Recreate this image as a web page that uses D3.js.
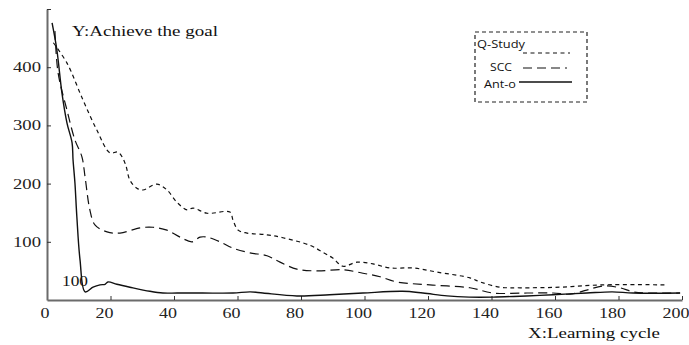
<!DOCTYPE html>
<html><head><meta charset="utf-8">
<script src="https://cdn.jsdelivr.net/npm/d3@7"></script>
<style>html,body{margin:0;padding:0;background:#fff;}svg{display:block;}</style>
</head><body>
<svg id="chart" width="689" height="345"></svg>
<script>
// ---- data ----
const seriesNames = ["Q-Study", "SCC", "Ant-o"];
const qStudyX = [2, 6.3, 11.3, 15.7, 19.8, 22.4, 24.6, 26.1, 28.3, 30.2, 34.6, 37.8, 40.9, 44.1, 46, 50.4, 57.6, 58.6, 60.2, 63, 69.3, 74.3, 82.8, 86.9, 90, 93.2, 97.6, 102.7, 108, 115.3, 122.8, 133.2, 136.4, 142.7, 149, 161.6, 175, 195];
const qStudyY = [442, 407, 344, 292, 253, 254, 235, 206, 192, 189, 199, 189, 168, 155, 158, 149, 151, 137, 120, 115, 112, 107, 94, 82, 72, 58, 65, 62, 55, 55, 48, 38, 31, 22, 21, 22, 26, 26];
const sccX = [2.5, 3.5, 6.3, 8.8, 11, 12, 13.5, 15.1, 18.9, 23, 29.3, 33.4, 37.8, 41.9, 45.7, 48.2, 50.4, 54.5, 58.6, 63.9, 69.3, 73.4, 78.7, 85, 93.2, 99.5, 104.9, 110.2, 120.6, 133.2, 140.5, 151.2, 159.4, 164.7, 170, 175.1, 180.5, 184.6, 189, 199.4];
const sccY = [462, 390, 326, 275, 246, 211, 155, 129, 117, 115, 124, 125, 120, 108, 100, 108, 108, 100, 89, 81, 76, 65, 53, 50, 52, 46, 40, 31, 26, 21, 12, 12, 12, 10, 17, 24, 21, 14, 12, 12];
const antX = [1.6, 3.1, 4.7, 6.3, 7.9, 8.2, 8.8, 9.4, 10.4, 12, 14.5, 16.7, 18.3, 19.2, 22, 26.1, 32.4, 36.5, 41, 49, 58.6, 64, 68, 78.7, 89, 99.5, 112, 118.4, 126, 133, 140.5, 151, 159.4, 170, 178, 184.6, 199.4];
const antY = [476, 430, 356, 304, 270, 241, 201, 143, 69, 14, 22, 26, 27, 31, 27, 22, 15, 12, 12, 12, 12, 14, 12, 7, 9, 12, 15, 12, 7, 5, 5, 7, 9, 12, 14, 12, 12];
const xTicks = [20, 40, 60, 80, 100, 120, 140, 160, 180, 200];
const xLabels = [0, 20, 40, 60, 80, 100, 120, 140, 160, 180, 200];
const yTicks = [100, 200, 300, 400, 500];
const yLabels = [100, 200, 300, 400];
const yTitle = "Y:Achieve the goal";
const xTitle = "X:Learning cycle";
const note = "100";

// ---- drawing ----
const SERIF = '"Liberation Serif", "Times New Roman", serif';
const SANS = '"Open Sans", sans-serif';
const svg = d3.select("#chart");
const x = d3.scaleLinear().domain([0, 200]).range([47, 682]);
const y = d3.scaleLinear().domain([0, 500]).range([300, 9]);
const axisColor = "#6b6b6b";

// text placed with a horizontal stretch so it spans the measured width
function fitText(parent, txt, px, py, w, anchor, font, size, color) {
  const t = parent.append("text")
    .style("font-family", font).style("font-size", size + "px")
    .attr("fill", color || "#111").text(txt);
  const nat = t.node().getComputedTextLength() || w;
  const sx = w / nat;
  const x0 = anchor === "middle" ? px - w / 2 : anchor === "end" ? px - w : px;
  t.attr("transform", `translate(${x0},${py}) scale(${sx},1)`);
  return t;
}

// x axis
const gx = svg.append("g").attr("transform", `translate(0,${y(0)})`)
  .call(d3.axisBottom(x).tickValues(xTicks).tickSizeInner(-4).tickSizeOuter(0).tickFormat(""));
gx.select(".domain").attr("stroke", axisColor).attr("stroke-width", 2);
gx.selectAll(".tick line").attr("stroke", "#333").attr("stroke-width", 1);

// y axis
const gy = svg.append("g").attr("transform", `translate(${x(0)},0)`)
  .call(d3.axisLeft(y).tickValues(yTicks).tickSizeInner(-4).tickSizeOuter(0).tickFormat(""));
gy.select(".domain").attr("stroke", axisColor).attr("stroke-width", 2);
gy.selectAll(".tick line").attr("stroke", "#333").attr("stroke-width", 1);

// tick labels
const gxl = svg.append("g");
xLabels.forEach(d => fitText(gxl, String(d), x(d) - (d === 0 ? 2 : 6), 318, String(d).length * 9, "middle", SERIF, 14, "#222"));
const gyl = svg.append("g");
yLabels.forEach(d => fitText(gyl, String(d), 41, y(d) + 5, 28, "end", SERIF, 14, "#222"));

// titles
fitText(svg, yTitle, 72, 36, 146, "start", SERIF, 15);
fitText(svg, xTitle, 528, 338, 132, "start", SERIF, 15);
fitText(svg, note, 62, 286, 26, "start", SERIF, 14);

// lines
const line = d3.line().x(d => x(d[0])).y(d => y(d[1])).curve(d3.curveCatmullRom.alpha(0.5));
const series = [
  {name: seriesNames[0], xs: qStudyX, ys: qStudyY, dash: "4,3.5", w: 1.2},
  {name: seriesNames[1], xs: sccX, ys: sccY, dash: "9,5", w: 1.2},
  {name: seriesNames[2], xs: antX, ys: antY, dash: null, w: 1.4}
];
series.forEach(s => {
  svg.append("path")
    .datum(s.xs.map((v, i) => [v, s.ys[i]]))
    .attr("d", line)
    .attr("fill", "none").attr("stroke", "#111").attr("stroke-width", s.w)
    .attr("stroke-dasharray", s.dash);
});

// legend
const lg = svg.append("g");
lg.append("rect").attr("x", 475).attr("y", 32).attr("width", 112).attr("height", 70)
  .attr("fill", "none").attr("stroke", "#222").attr("stroke-width", 1.2).attr("stroke-dasharray", "4,3");
const legendItems = [
  {tx: 477, ty: 48, tl: 48, lx1: 523, lx2: 570, ly: 53},
  {tx: 490, ty: 71, tl: 22, lx1: 523, lx2: 567, ly: 68},
  {tx: 484, ty: 88, tl: 32, lx1: 519, lx2: 572, ly: 82}
];
legendItems.forEach((it, i) => {
  fitText(lg, seriesNames[i], it.tx, it.ty, it.tl, "start", SANS, 11);
  lg.append("line").attr("x1", it.lx1).attr("x2", it.lx2).attr("y1", it.ly).attr("y2", it.ly)
    .attr("stroke", "#111").attr("stroke-width", series[i].w).attr("stroke-dasharray", series[i].dash);
});
</script>
</body></html>
